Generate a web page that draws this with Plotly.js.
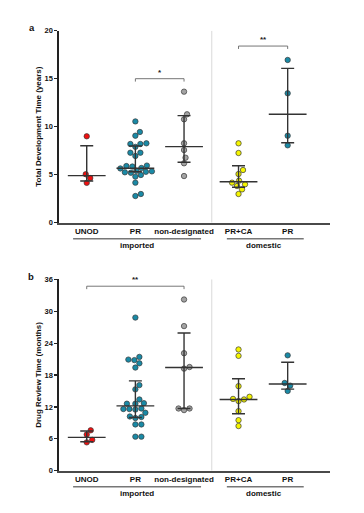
<!DOCTYPE html>
<html><head><meta charset="utf-8">
<script src="https://cdn.plot.ly/plotly-3.0.1.min.js"></script>
<style>html,body{margin:0;padding:0;background:#fff}#chart{width:364px;height:513px}</style>
</head><body><div id="chart"></div>
<script>
// ---------- data ----------
const categories = ['UNOD', 'PR', 'non-designated', 'PR+CA', 'PR'];
const groupLabels = ['imported', 'domestic'];
const yTitleA = 'Total Development Time (years)';
const yTitleB = 'Drug Review Time (months)';
const ticksA = [0, 5, 10, 15, 20];
const ticksB = [0, 6, 12, 18, 24, 30, 36];

// Panel a: total development time (years)
const devUNOD = [9.0, 5.05, 4.65, 4.15];
const devPRimp = [10.55, 9.45, 9.06, 8.27, 8.2, 8.2, 7.9, 7.29, 7.29, 6.95, 5.9, 5.95, 5.7, 5.65, 5.85,
                  5.3, 5.2, 5.35, 5.25, 5.4, 4.97, 4.8, 4.17, 2.99, 2.78];
const devNonDes = [13.65, 11.29, 10.77, 8.27, 7.57, 6.77, 6.19, 4.86];
const devPRCA = [8.27, 7.26, 5.49, 5.07, 4.38, 4.0, 4.17, 3.82, 3.47, 2.99];
const devPRdom = [16.95, 13.48, 9.06, 8.06];
const devMedian = [4.9, 5.67, 7.92, 4.27, 11.29];
const devQ1 = [4.34, 5.3, 6.29, 3.69, 8.33];
const devQ3 = [8.02, 7.99, 11.15, 5.94, 16.08];

// Panel b: drug review time (months)
const revUNOD = [7.6, 6.8, 5.8, 5.33];
const revPRimp = [28.8, 21.4, 20.9, 20.8, 20.2, 19.4, 16.1, 15.3, 13.4, 12.6, 12.6, 12.7,
                  11.6, 11.6, 11.5, 11.7, 10.9, 10.2, 10.1, 9.9, 8.7, 8.7, 6.4, 6.4];
const revNonDes = [32.2, 27.2, 22.1, 19.5, 19.2, 11.7, 11.4, 11.7];
const revPRCA = [22.8, 21.6, 15.9, 13.9, 13.4, 13.1, 13.5, 11.2, 9.5, 8.4];
const revPRdom = [21.7, 16.5, 16.0, 15.0];
const revMedian = [6.27, 12.2, 19.4, 13.4, 16.3];
const revQ1 = [5.45, 10.0, 11.7, 10.7, 15.35];
const revQ3 = [7.46, 16.9, 25.9, 17.3, 20.4];

// significance: [fromIndex, toIndex, level, label]
const sigA = [[1, 2, 15.0, '*'], [3, 4, 18.4, '**']];
const sigB = [[0, 2, 34.7, '**']];

// ---------- layout constants ----------
const W = 364, H = 513;
const xPos = [0, 1, 2, 3.12, 4.13];
const xRange = [-0.576, 5.0];
const plotL = 58.7, plotR = 330;
const pxPerX = (plotR - plotL) / (xRange[1] - xRange[0]);
const aTop = 30.7, aBot = 222.7, bTop = 279.3, bBot = 470.7;
const colors = ['#f01010', '#1a8aa6', '#a3a3a3', '#f5f500', '#1a8aa6'];
const FONT = 'Liberation Sans, Arial, sans-serif';
const DOT = 5.4;

function swarm(vals, center, pxPerY) {
  const idx = vals.map((v, i) => i).sort((a, b) => vals[a] - vals[b]);
  const placed = [];
  const xs = new Array(vals.length);
  idx.forEach(i => {
    const yp = vals[i] * pxPerY;
    let off = 0;
    for (let k = 0; k < 200; k++) {
      const cand = (k % 2 ? 1 : -1) * Math.ceil(k / 2) * 0.5;
      const ok = placed.every(p => Math.hypot(p[0] - cand, p[1] - yp) >= DOT + 0.3);
      if (ok) { off = cand; break; }
    }
    placed.push([off, yp]);
    xs[i] = center + off / pxPerX;
  });
  return xs;
}

function panelTraces(sets, med, q1, q3, xa, ya, pxPerY) {
  const tr = [];
  sets.forEach((vals, i) => {
    tr.push({
      type: 'scatter', mode: 'markers', xaxis: xa, yaxis: ya,
      x: swarm(vals, xPos[i], pxPerY), y: vals,
      marker: {size: DOT, color: colors[i], line: {color: '#3a3a3a', width: 0.7}},
      hoverinfo: 'skip', showlegend: false
    });
  });
  tr.push({
    type: 'scatter', mode: 'markers', xaxis: xa, yaxis: ya,
    x: xPos, y: med,
    marker: {symbol: 'line-ew', size: 27, color: '#333', line: {color: '#333', width: 1.4}},
    error_y: {type: 'data', symmetric: false,
      array: q3.map((v, i) => v - med[i]), arrayminus: med.map((v, i) => v - q1[i]),
      color: '#333', thickness: 1.4, width: 6.5},
    hoverinfo: 'skip', showlegend: false
  });
  return tr;
}

const traces = [].concat(
  panelTraces([devUNOD, devPRimp, devNonDes, devPRCA, devPRdom], devMedian, devQ1, devQ3, 'x', 'y', (aBot - aTop) / 20),
  panelTraces([revUNOD, revPRimp, revNonDes, revPRCA, revPRdom], revMedian, revQ1, revQ3, 'x2', 'y2', (bBot - bTop) / 36)
);

const py = v => 1 - v / H;

function xAxis(anchor) {
  return {domain: [plotL / W, plotR / W], range: xRange, anchor: anchor,
    showgrid: false, zeroline: false, showline: true, linecolor: '#4a4a4a', linewidth: 1.8,
    ticks: '', tickvals: xPos, ticktext: categories,
    tickfont: {family: FONT, size: 8, color: '#111', weight: 'bold'}, fixedrange: true};
}
function yAxis(anchor, top, bot, range, ticks, title) {
  return {domain: [py(bot), py(top)], range: range, anchor: anchor,
    showgrid: false, zeroline: false, showline: true, linecolor: '#222', linewidth: 1.3,
    ticks: 'outside', ticklen: 3, tickwidth: 1.2, tickcolor: '#222', tickvals: ticks,
    tickfont: {family: FONT, size: 7.5, color: '#111', weight: 'bold'},
    title: {text: title, font: {family: FONT, size: 8, color: '#111', weight: 'bold'}, standoff: 1},
    fixedrange: true};
}

const shapes = [];
const annotations = [];
function addSig(list, xr, yr, tickLen) {
  list.forEach(s => {
    const x1 = xPos[s[0]], x2 = xPos[s[1]], y = s[2];
    shapes.push({type: 'path', xref: xr, yref: yr,
      path: `M${x1},${y - tickLen} L${x1},${y} L${x2},${y} L${x2},${y - tickLen}`,
      line: {color: '#666', width: 0.9}});
    annotations.push({xref: xr, yref: yr, x: (x1 + x2) / 2, y: y, yanchor: 'bottom', yshift: 0,
      text: s[3], showarrow: false, font: {family: FONT, size: 8, color: '#222', weight: 'bold'}});
  });
}
addSig(sigA, 'x', 'y', 0.3);
addSig(sigB, 'x2', 'y2', 0.55);

// separators between imported and domestic
shapes.push({type: 'line', xref: 'x', yref: 'y', x0: 2.57, x1: 2.57, y0: 0, y1: 20, line: {color: '#cfcfcf', width: 0.8}});
shapes.push({type: 'line', xref: 'x2', yref: 'y2', x0: 2.57, x1: 2.57, y0: 0, y1: 36, line: {color: '#cfcfcf', width: 0.8}});

// group labels under x axes
const groupSpans = [[-0.28, 2.35], [2.88, 4.46]];
[[aBot, 'x'], [bBot, 'x2']].forEach(p => {
  const lineY = py(p[0] + 16), textY = py(p[0] + 22.5);
  groupSpans.forEach((g, i) => {
    shapes.push({type: 'line', xref: p[1], yref: 'paper', x0: g[0], x1: g[1], y0: lineY, y1: lineY,
      line: {color: '#777', width: 1.6}});
    annotations.push({xref: p[1], yref: 'paper', x: (g[0] + g[1]) / 2 + (i === 0 ? 0.0 : -0.02), y: textY,
      yanchor: 'middle', text: groupLabels[i], showarrow: false,
      font: {family: FONT, size: 8, color: '#111', weight: 'bold'}});
  });
});

// panel letters
annotations.push({xref: 'paper', yref: 'paper', x: 32.3 / W, y: py(27.3), text: 'a', showarrow: false,
  xanchor: 'center', yanchor: 'middle', font: {family: FONT, size: 9.5, color: '#111', weight: 'bold'}});
annotations.push({xref: 'paper', yref: 'paper', x: 31 / W, y: py(276.7), text: 'b', showarrow: false,
  xanchor: 'center', yanchor: 'middle', font: {family: FONT, size: 9.5, color: '#111', weight: 'bold'}});

const layout = {
  width: W, height: H, margin: {l: 0, r: 0, t: 0, b: 0},
  paper_bgcolor: '#fff', plot_bgcolor: '#fff', showlegend: false, hovermode: false,
  xaxis: xAxis('y'), yaxis: yAxis('x', aTop, aBot, [0, 20], ticksA, yTitleA),
  xaxis2: xAxis('y2'), yaxis2: yAxis('x2', bTop, bBot, [0, 36], ticksB, yTitleB),
  shapes: shapes, annotations: annotations
};

Plotly.newPlot('chart', traces, layout, {displayModeBar: false, staticPlot: true});
</script></body></html>
